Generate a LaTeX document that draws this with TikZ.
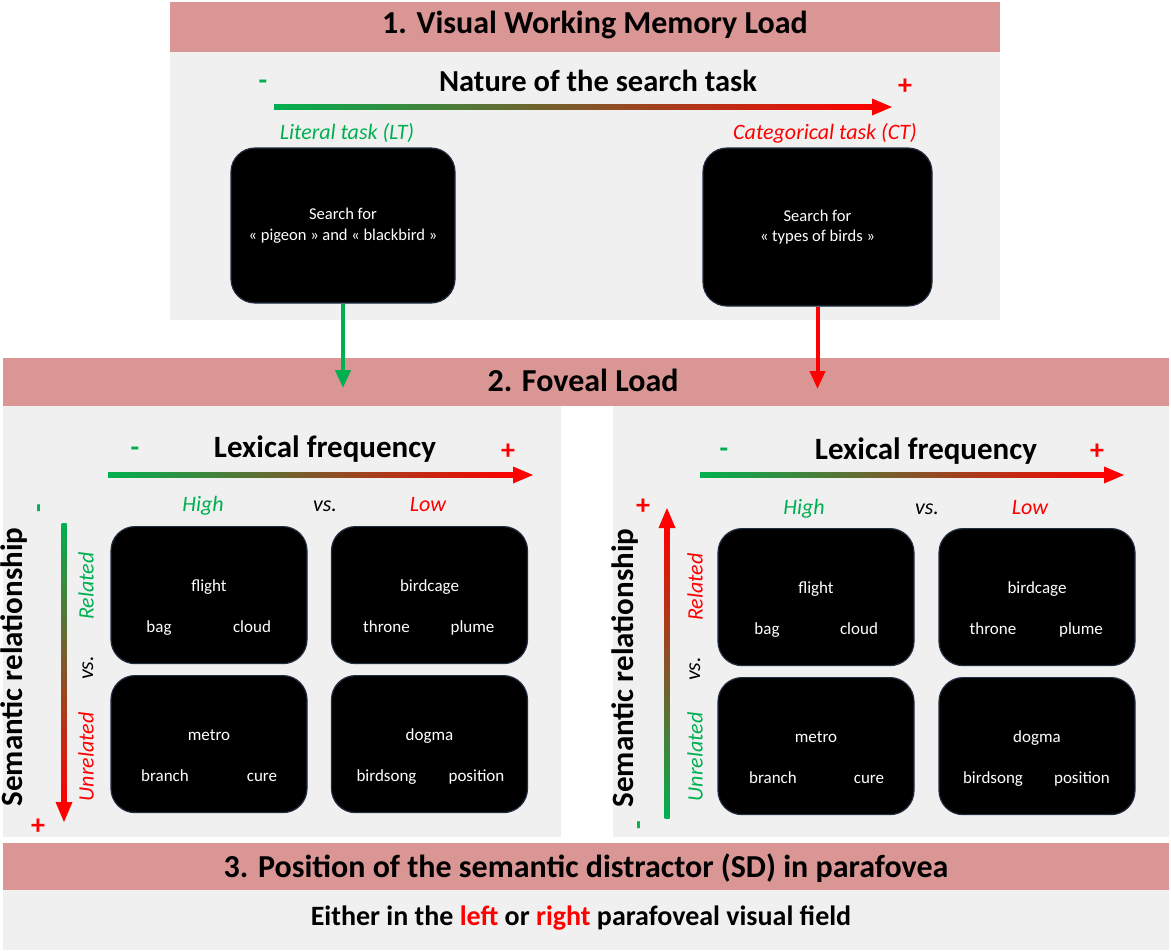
\documentclass[tikz,border=0pt]{standalone}
\usepackage{fontspec}
\setmainfont{Carlito}
\usetikzlibrary{arrows.meta,calc}

\definecolor{bandpink}{RGB}{217,150,148}
\definecolor{panelgray}{RGB}{240,240,240}
\definecolor{grn}{RGB}{0,176,80}
\definecolor{rd}{RGB}{255,0,0}
\definecolor{boxline}{RGB}{35,45,65}

\tikzset{
  heading/.style={font=\fontsize{32}{38}\selectfont\bfseries, anchor=base, inner sep=0pt},
  axistitle/.style={font=\fontsize{31}{37}\selectfont\bfseries, anchor=base, inner sep=0pt},
  lbl/.style={font=\fontsize{22}{26}\selectfont\itshape, inner sep=0pt},
  sign/.style={font=\fontsize{28}{30}\selectfont\bfseries, inner sep=0pt},
  screen/.style={fill=black, draw=boxline, line width=1.2pt, rounded corners=24pt},
  word/.style={text=white, font=\fontsize{17}{20}\selectfont, anchor=base, inner sep=0pt},
  flow/.style={line width=4pt, -{Triangle[length=18pt,width=15pt]}},
}

% horizontal colour-graded axis: start x, tip x, y
\newcommand\gradarrowh[3]{%
  \shade[left color=grn, right color=rd] (#1,#3-2.5) rectangle (#2-17,#3+2.5);
  \fill[rd] (#2-20,#3-8.5) -- (#2,#3) -- (#2-20,#3+8.5) -- cycle;}
% vertical axis pointing down: x, top y, tip y
\newcommand\gradarrowdown[3]{%
  \shade[top color=grn, bottom color=rd] (#1-2.5,#2) rectangle (#1+2.5,#3-17);
  \fill[rd] (#1-8.5,#3-20) -- (#1,#3) -- (#1+8.5,#3-20) -- cycle;}
% vertical axis pointing up: x, bottom y, tip y
\newcommand\gradarrowup[3]{%
  \shade[top color=rd, bottom color=grn] (#1-2.5,#3+17) rectangle (#1+2.5,#2);
  \fill[rd] (#1-8.5,#3+20) -- (#1,#3) -- (#1+8.5,#3+20) -- cycle;}
% stimulus screen: name, centre x, top y, centre word, left word, right word, left dx, right dx
\newcommand\quadbox[8]{%
  \node[screen, minimum width=196pt, minimum height=137pt, anchor=north] (#1) at (#2,#3) {};
  \node[word] (#1c) at ($(#1.north)+(0,65)$) {#4};
  \node[word] (#1l) at ($(#1.north)+(#7,106)$) {#5};
  \node[word] (#1r) at ($(#1.north)+(#8,106)$) {#6};}

\begin{document}
\begin{tikzpicture}[x=1pt, y=-1pt]
\useasboundingbox (0,0) rectangle (1171,951);
\fill[white] (0,0) rectangle (1171,951);

% ---------- section 1 ----------
\fill[bandpink] (170,2) rectangle (1000,52);
\fill[panelgray] (170,52) rectangle (1000,320);
\node[heading] (t1) at (595,33) {1. Visual Working Memory Load};
\node[heading, font=\fontsize{30.5}{36}\selectfont\bfseries] (nat) at (598,91) {Nature of the search task};
\node[sign, text=grn] (tminus) at (263,85) {-};
\node[sign, text=rd] (tplus) at (905,87) {+};
\gradarrowh{274}{892}{107}
\node[lbl, text=grn, anchor=base] (ltl) at (347,139) {Literal task (LT)};
\node[lbl, text=rd, anchor=base] (ctl) at (825,139) {Categorical task (CT)};

\node[screen, minimum width=224pt, minimum height=155pt, text=white, align=center,
      font=\fontsize{16.5}{20.5}\selectfont] (lt) at (343,225.5)
      {Search for\\« pigeon » and « blackbird »};
\node[screen, minimum width=229pt, minimum height=158pt, text=white, align=center,
      font=\fontsize{16.5}{20.5}\selectfont] (ct) at (817.5,227)
      {Search for\\« types of birds »};

% ---------- section 2 ----------
\fill[bandpink] (3,358) rectangle (1169,406);
\node[heading] (t2) at (583,391) {2. Foveal Load};

\coordinate (ltend) at (343,388);
\coordinate (ctend) at (817.5,389);
\draw[flow, draw=grn] (lt.south) -- (ltend);
\draw[flow, draw=rd] (ct.south) -- (ctend);

\fill[panelgray] (3,406) rectangle (561,837);
\fill[panelgray] (613,406) rectangle (1169,837);

% left panel
\node[axistitle] (lexl) at (325,457) {Lexical frequency};
\node[sign, text=grn] (lminus) at (135,452) {-};
\node[sign, text=rd] (lplus) at (508,452) {+};
\gradarrowh{108}{533}{475}
\node[lbl, text=grn, anchor=base] (lhigh) at (203,511) {High};
\node[lbl, anchor=base] (lvs) at (325,511) {vs.};
\node[lbl, text=rd, anchor=base] (llow) at (428,511) {Low};

\node[axistitle, anchor=center, rotate=90] (seml) at (14,667) {Semantic relationship};
\node[sign, text=grn, rotate=90] (lvminus) at (42,508) {-};
\node[sign, text=rd] (lvplus) at (38,827) {+};
\gradarrowdown{64}{523}{822}
\node[lbl, text=grn, rotate=90] (lrel) at (86,586) {Related};
\node[lbl, rotate=90] (lvs2) at (88,668) {vs.};
\node[lbl, text=rd, rotate=90] (lunrel) at (86,757) {Unrelated};

\quadbox{lhr}{209}{526}{flight}{bag}{cloud}{-50}{43}
\quadbox{llr}{429.5}{526}{birdcage}{throne}{plume}{-43}{43}
\quadbox{lhu}{209}{675}{metro}{branch}{cure}{-44}{53}
\quadbox{llu}{429.5}{675}{dogma}{birdsong}{position}{-43}{47}

% right panel
\node[axistitle] (lexr) at (926,459) {Lexical frequency};
\node[sign, text=grn] (rminus) at (724,453) {-};
\node[sign, text=rd] (rplus) at (1097,452) {+};
\gradarrowh{700}{1124}{475}
\node[lbl, text=grn, anchor=base] (rhigh) at (804,514) {High};
\node[lbl, anchor=base] (rvs) at (927,514) {vs.};
\node[lbl, text=rd, anchor=base] (rlow) at (1030,514) {Low};

\node[axistitle, anchor=center, rotate=90] (semr) at (625,668) {Semantic relationship};
\node[sign, text=rd] (rvplus) at (643,507) {+};
\node[sign, text=grn, rotate=90] (rvminus) at (642,825) {-};
\gradarrowup{667}{818}{508}
\node[lbl, text=rd, rotate=90] (rrel) at (695,587) {Related};
\node[lbl, rotate=90] (rvs2) at (695,669) {vs.};
\node[lbl, text=grn, rotate=90] (runrel) at (695,757) {Unrelated};

\quadbox{rhr}{816}{528}{flight}{bag}{cloud}{-49}{43}
\quadbox{rlr}{1037}{528}{birdcage}{throne}{plume}{-44}{44}
\quadbox{rhu}{816}{677}{metro}{branch}{cure}{-43}{53}
\quadbox{rlu}{1037}{677}{dogma}{birdsong}{position}{-44}{45}

% ---------- section 3 ----------
\fill[bandpink] (3,843) rectangle (1169,890);
\fill[panelgray] (3,890) rectangle (1169,950);
\node[heading] (t3) at (586,877) {3. Position of the semantic distractor (SD) in parafovea};
\node[heading, font=\fontsize{28}{33}\selectfont\bfseries] (field) at (581,925)
  {Either in the \textcolor{rd}{left} or \textcolor{rd}{right} parafoveal visual field};
\end{tikzpicture}
\end{document}
